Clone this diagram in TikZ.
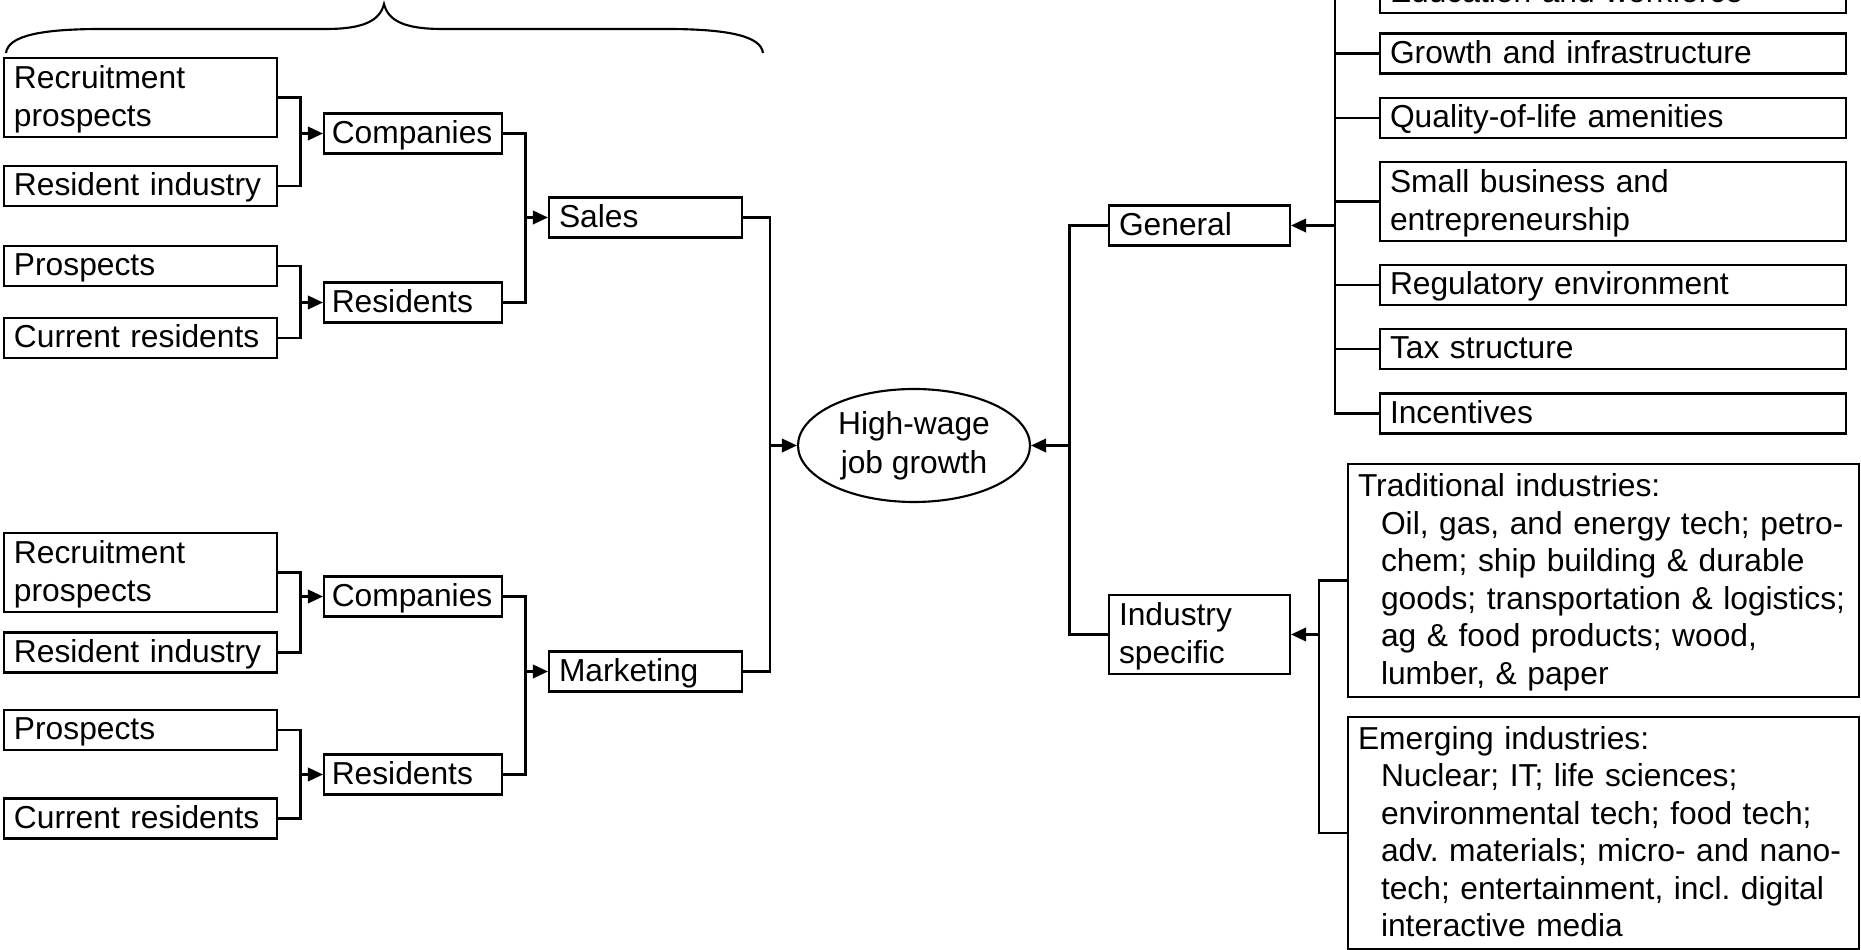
\documentclass[tikz,border=0pt]{standalone}
\usepackage{fontspec}
\setmainfont{Liberation Sans}
\usetikzlibrary{shapes.geometric,arrows.meta,calc}
\begin{document}
\begin{tikzpicture}[x=0.4pt,y=-0.4pt,line width=0.85pt,
    font=\fontsize{12.7}{15}\selectfont,
    box/.style={draw,rectangle,align=left,inner xsep=4pt,inner ysep=0pt,
      minimum height=16pt,text height=9.5pt,text depth=1.5pt},
    two/.style={minimum height=31.6pt,text depth=16.5pt},
    srcbox/.style={box,text width=101.2pt},
    grpbox/.style={box,text width=65pt,inner xsep=3.1pt},
    chanbox/.style={box,text width=69.2pt},
    sidebox/.style={box,text width=64.4pt},
    factbox/.style={box,text width=178.4pt},
    indbox/.style={box,text width=196.4pt,minimum height=93pt,text depth=76.5pt},
    goalnode/.style={draw,ellipse,align=center,inner sep=0pt,minimum width=92.8pt,
      minimum height=45.2pt,font=\fontsize{12.7}{15.6}\selectfont},
    arr/.style={-{Triangle[length=6pt,width=5.4pt]}}]
  \useasboundingbox (0,0) rectangle (1861,950);

  \draw (6,53) .. controls (8,36) and (40,29) .. (102,29) -- (326,29)
    .. controls (365,29) and (380,20) .. (384,4)
    .. controls (388,20) and (403,29) .. (442,29) -- (666,29)
    .. controls (728,29) and (761,36) .. (763,53);

  \node[srcbox,two] (rpA) at (140.5,97.5) {Recruitment\\prospects};
  \node[srcbox] (riA) at (140.5,186) {Resident industry};
  \node[srcbox] (pA) at (140.5,266) {Prospects};
  \node[srcbox] (crA) at (140.5,338) {Current residents};
  \node[grpbox] (coA) at (413,133.5) {Companies};
  \node[grpbox] (reA) at (413,302.5) {Residents};
  \node[chanbox] (sales) at (645.5,217.5) {Sales};

  \node[srcbox,two] (rpB) at (140.5,572.5) {Recruitment\\prospects};
  \node[srcbox] (riB) at (140.5,652.5) {Resident industry};
  \node[srcbox] (pB) at (140.5,730) {Prospects};
  \node[srcbox] (crB) at (140.5,818.5) {Current residents};
  \node[grpbox] (coB) at (413,596.5) {Companies};
  \node[grpbox] (reB) at (413,774.5) {Residents};
  \node[chanbox] (mkt) at (645.5,671.5) {Marketing};

  \node[goalnode] (goal) at (914,445.5) {High-wage\\job growth};

  \node[sidebox] (gen) at (1199.5,225.5) {General};
  \node[sidebox,two] (ind) at (1199.5,634.5) {Industry\\specific};

  \node[factbox] (edu) at (1613,-7) {Education and workforce};
  \node[factbox] (grow) at (1613,53.5) {Growth and infrastructure};
  \node[factbox] (qol) at (1613,118) {Quality-of-life amenities};
  \node[factbox,two] (smb) at (1613,201.5) {Small business and\\entrepreneurship};
  \node[factbox] (reg) at (1613,285) {Regulatory environment};
  \node[factbox] (tax) at (1613,349) {Tax structure};
  \node[factbox] (inc) at (1613,413.5) {Incentives};

  \node[indbox] (trad) at (1603.5,580.5) {Traditional industries:\\
    \hspace*{9.2pt}Oil, gas, and energy tech; petro-\\
    \hspace*{9.2pt}chem; ship building \& durable\\
    \hspace*{9.2pt}goods; transportation \& logistics;\\
    \hspace*{9.2pt}ag \& food products; wood,\\
    \hspace*{9.2pt}lumber, \& paper};
  \node[indbox] (emer) at (1603.5,833) {Emerging industries:\\
    \hspace*{9.2pt}Nuclear; IT; life sciences;\\
    \hspace*{9.2pt}environmental tech; food tech;\\
    \hspace*{9.2pt}adv.\ materials; micro- and nano-\\
    \hspace*{9.2pt}tech; entertainment, incl.\ digital\\
    \hspace*{9.2pt}interactive media};

  \foreach \a/\b/\t in {rpA/riA/coA,pA/crA/reA,coA/reA/sales,
      rpB/riB/coB,pB/crB/reB,coB/reB/mkt,sales/mkt/goal}{
    \coordinate (j) at ($(\a.east)!.5!(\t.west)$);
    \draw (\a.east) -- (\a.east -| j) |- (\b.east);
    \draw[arr] (\t.west -| j) -- (\t.west);
  }
  \foreach \a/\b/\t in {gen/ind/goal,trad/emer/ind}{
    \coordinate (j) at ($(\a.west)!.5!(\t.east)$);
    \draw (\a.west) -- (\a.west -| j) |- (\b.west);
    \draw[arr] (\t.east -| j) -- (\t.east);
  }
  \coordinate (jg) at ($(gen.east)!.5!(grow.west)$);
  \draw (edu.west) -- (edu.west -| jg) |- (inc.west);
  \foreach \f in {grow,qol,smb,reg,tax}
    \draw (\f.west) -- (\f.west -| jg);
  \draw[arr] (gen.east -| jg) -- (gen.east);
\end{tikzpicture}
\end{document}
